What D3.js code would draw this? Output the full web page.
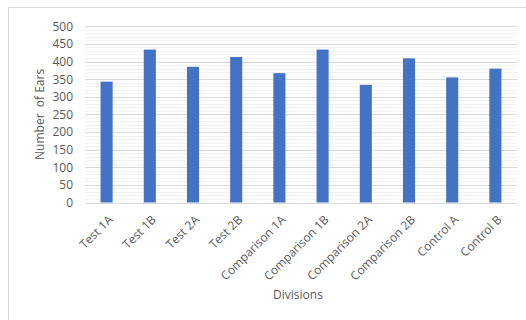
<!DOCTYPE html>
<html>
<head>
<meta charset="utf-8">
<script src="https://cdn.jsdelivr.net/npm/d3@7"></script>
<style>
  html, body { margin: 0; padding: 0; background: #fff; }
  svg { display: block; }
  text { font-family: "Open Sans", "Liberation Sans", sans-serif; fill: #595959; }
</style>
</head>
<body>
<svg id="chart" width="526" height="320"></svg>
<script>
// Ear counts per division
const divisions = ["Test 1A", "Test 1B", "Test 2A", "Test 2B", "Comparison 1A", "Comparison 1B",
                   "Comparison 2A", "Comparison 2B", "Control A", "Control B"];
const ears = [343, 434, 385, 413, 367, 434, 334, 409, 355, 380];
const yTicks = [0, 50, 100, 150, 200, 250, 300, 350, 400, 450, 500];
const yMinorTicks = d3.range(0, 501, 10);

const svg = d3.select("#chart");
const plot = { left: 85, right: 517, top: 26.3, bottom: 202.5 };

// outer chart frame
svg.append("rect")
  .attr("x", 8.5).attr("y", 7.5)
  .attr("width", 540).attr("height", 340)
  .attr("fill", "none").attr("stroke", "#d9d9d9").attr("stroke-width", 1);

const x = d3.scaleBand().domain(divisions).range([plot.left, plot.right]).paddingInner(0.72).paddingOuter(0.36);
const y = d3.scaleLinear().domain([0, 500]).range([plot.bottom, plot.top]);

// minor gridlines
svg.append("g").selectAll("line")
  .data(yMinorTicks.filter(v => v % 50 !== 0))
  .join("line")
  .attr("x1", plot.left).attr("x2", plot.right)
  .attr("y1", d => Math.round(y(d)) + 0.5).attr("y2", d => Math.round(y(d)) + 0.5)
  .attr("stroke", "#f2f2f2").attr("stroke-width", 1);

// major gridlines
svg.append("g").selectAll("line")
  .data(yTicks)
  .join("line")
  .attr("x1", plot.left).attr("x2", plot.right)
  .attr("y1", d => Math.round(y(d)) + 0.5).attr("y2", d => Math.round(y(d)) + 0.5)
  .attr("stroke", "#d9d9d9").attr("stroke-width", 1);

// bars
svg.append("g").selectAll("rect")
  .data(ears)
  .join("rect")
  .attr("x", (d, i) => x(divisions[i]))
  .attr("width", x.bandwidth())
  .attr("y", d => y(d))
  .attr("height", d => y(0) - y(d))
  .attr("fill", "#4472c4");

// y axis
const yAxis = svg.append("g")
  .attr("transform", `translate(${plot.left - 12},0)`)
  .call(d3.axisLeft(y).tickValues(yTicks).tickSize(0).tickPadding(0));
yAxis.select(".domain").remove();
yAxis.selectAll("text").attr("font-size", 12).style("fill", "#595959")
  .style("font-family", '"Open Sans", "Liberation Sans", sans-serif');

// x axis
const xAxis = svg.append("g")
  .attr("transform", `translate(0,${plot.bottom})`)
  .call(d3.axisBottom(x).tickSize(0).tickPadding(0));
xAxis.select(".domain").remove();
xAxis.selectAll("text")
  .attr("font-size", 12)
  .style("fill", "#595959")
  .style("font-family", '"Open Sans", "Liberation Sans", sans-serif')
  .attr("text-anchor", "end")
  .attr("dy", null).attr("y", 0)
  .attr("transform", "translate(7,18) rotate(-45)");

// axis titles
svg.append("text")
  .attr("transform", `translate(44,${(plot.top + plot.bottom) / 2}) rotate(-90)`)
  .attr("text-anchor", "middle")
  .attr("font-size", 12)
  .style("white-space", "pre")
  .text("Number  of Ears");

svg.append("text")
  .attr("x", 298).attr("y", 299)
  .attr("text-anchor", "middle")
  .attr("font-size", 12)
  .text("Divisions");
</script>
</body>
</html>
